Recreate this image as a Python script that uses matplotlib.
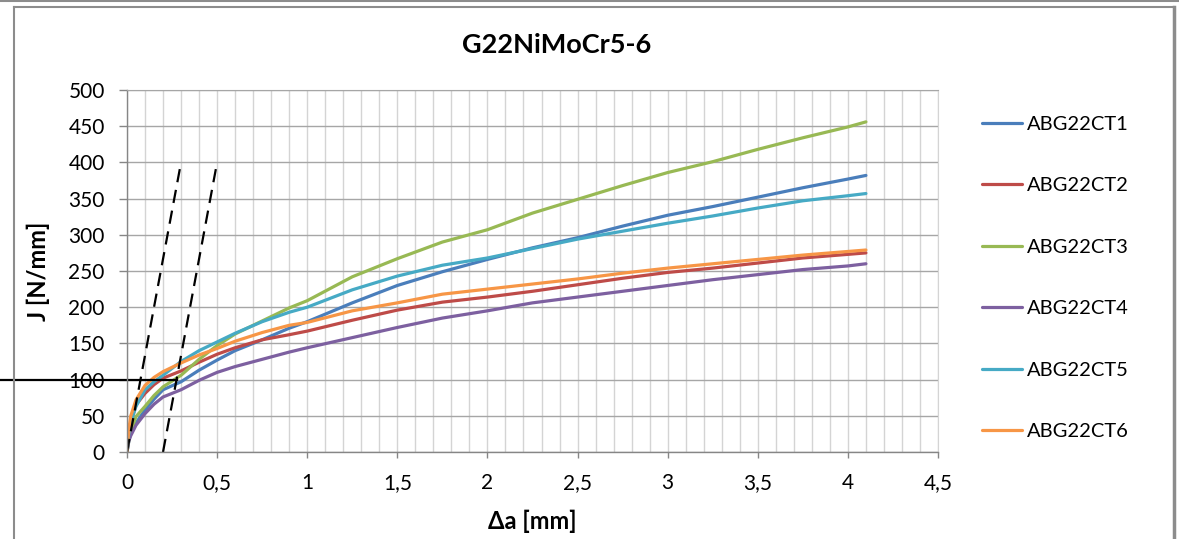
"""
J-R resistance curves for the G22NiMoCr5-6 specimens
"""
import matplotlib
matplotlib.use('Agg')
import matplotlib.pyplot as plt
import matplotlib.lines as mlines
from matplotlib.ticker import MultipleLocator, FuncFormatter

plt.rcParams['font.family'] = ['Lato', 'DejaVu Sans']

# crack extension [mm], shared by all specimens
delta_a = [0, 0.01, 0.02, 0.05, 0.1, 0.15, 0.2, 0.3, 0.4, 0.5, 0.6, 0.75, 0.9, 1.0,
           1.25, 1.5, 1.75, 2.0, 2.25, 2.5, 2.75, 3.0, 3.25, 3.5, 3.75, 4.0, 4.1]

# J integral [N/mm]
j_ct1 = [0, 15, 25, 40, 58, 73, 86, 97, 113, 127, 140, 155, 171, 180,
         206, 230, 249, 266, 282, 296, 312, 327, 339, 352, 365, 377, 382]
j_ct2 = [0, 25, 40, 65, 81, 93, 102, 112, 124, 135, 144, 155, 162, 167,
         182, 196, 207, 214, 222, 231, 240, 248, 254, 261, 268, 273, 275]
j_ct3 = [0, 15, 28, 49, 63, 78, 90, 106, 128, 147, 163, 181, 199, 209,
         242, 267, 290, 307, 330, 349, 368, 386, 401, 418, 434, 449, 456]
j_ct4 = [0, 15, 22, 37, 53, 66, 76, 86, 99, 110, 118, 128, 138, 144,
         158, 172, 185, 195, 206, 214, 222, 230, 238, 245, 252, 257, 260]
j_ct5 = [0, 25, 40, 63, 86, 97, 106, 125, 140, 152, 164, 180, 193, 200,
         224, 243, 258, 268, 281, 294, 305, 316, 326, 337, 347, 354, 357]
j_ct6 = [0, 30, 49, 72, 92, 103, 111, 123, 134, 143, 153, 165, 175, 179,
         195, 206, 218, 225, 232, 239, 247, 254, 260, 266, 272, 277, 279]

SPECIMENS = ['ABG22CT1', 'ABG22CT2', 'ABG22CT3', 'ABG22CT4', 'ABG22CT5', 'ABG22CT6']
SERIES = [j_ct1, j_ct2, j_ct3, j_ct4, j_ct5, j_ct6]
COLORS = ['#4A7EBB', '#BE4B48', '#98B954', '#7D60A0', '#46AAC5', '#F79646']

# blunting line and its 0.2 mm offset, plus the J level marker
BLUNT_SLOPE = 400 / 0.3
BLUNT_OFFSETS = [0.0, 0.2]
BLUNT_J = [0, 400]
J_LEVEL = 100

GRID_MAJOR = '#a6a6a6'
GRID_MINOR = '#d4d4d4'
AXIS_GREY = '#868686'

fig = plt.figure(figsize=(11.79, 5.39), dpi=100)
ax = fig.add_axes([0.1077, 0.1614, 0.6879, 0.6716])

for label, j, c in zip(SPECIMENS, SERIES, COLORS):
    ax.plot(delta_a, j, color=c, linewidth=2.3, label=label,
            solid_capstyle='round', solid_joinstyle='round')

for off in BLUNT_OFFSETS:
    xs = [off + jj / BLUNT_SLOPE for jj in BLUNT_J]
    ax.plot(xs, BLUNT_J, color='black', linewidth=1.6, linestyle=(0, (6, 3.5)))

ax.set_xlim(0, 4.5)
ax.set_ylim(0, 500)

# horizontal marker from the figure edge up to the offset line
x_edge = ax.transData.inverted().transform(fig.transFigure.transform((0, 0)))[0]
x_cross = BLUNT_OFFSETS[1] + J_LEVEL / BLUNT_SLOPE
ax.plot([x_edge, x_cross], [J_LEVEL, J_LEVEL], color='black', linewidth=1.6, clip_on=False)

ax.xaxis.set_major_locator(MultipleLocator(0.5))
ax.xaxis.set_minor_locator(MultipleLocator(0.1))
ax.yaxis.set_major_locator(MultipleLocator(50))
ax.xaxis.set_major_formatter(FuncFormatter(lambda v, p: ('%g' % v).replace('.', ',')))

ax.grid(which='major', axis='y', color=GRID_MAJOR, linewidth=1.0)
ax.grid(which='both', axis='x', color=GRID_MINOR, linewidth=1.0)
ax.set_axisbelow(True)

ax.spines['top'].set_color(GRID_MAJOR)
ax.spines['right'].set_color(GRID_MINOR)
for side in ['left', 'bottom']:
    ax.spines[side].set_color(AXIS_GREY)
    ax.spines[side].set_linewidth(1.0)

ax.tick_params(axis='y', which='major', length=6, width=1, color=AXIS_GREY,
               labelsize=15, pad=10)
ax.tick_params(axis='x', which='major', length=4, width=1, color=AXIS_GREY,
               labelsize=15, pad=11)
ax.tick_params(axis='x', which='minor', length=0)

ax.set_ylabel('J [N/mm]', fontsize=17, fontweight='bold')
ax.yaxis.set_label_coords(-0.095, 0.5)
ax.set_xlabel('\u0394a [mm]', fontsize=17, fontweight='bold')
ax.xaxis.set_label_coords(0.5, -0.158)

fig.text(0.472, 0.916, 'G22NiMoCr5-6', fontsize=19.5, fontweight='bold',
         ha='center', va='center')

fig.legend(loc='upper left', bbox_to_anchor=(0.826, 0.800), frameon=False,
           fontsize=14.5, handlelength=2.0, handletextpad=0.25, labelspacing=2.2,
           borderaxespad=0)

# chart frame
fig.add_artist(mlines.Line2D([0, 1], [0.998, 0.998], color='#8c8c8c', linewidth=1.5))
fig.add_artist(mlines.Line2D([14 / 1179, 1174 / 1179], [1 - 7 / 539, 1 - 7 / 539],
                             color='#8c8c8c', linewidth=1.5))
fig.add_artist(mlines.Line2D([14 / 1179, 14 / 1179], [0, 1 - 7 / 539],
                             color='#8c8c8c', linewidth=1.5))
fig.add_artist(mlines.Line2D([1174 / 1179, 1174 / 1179], [0, 1 - 7 / 539],
                             color='#8c8c8c', linewidth=2.5))

fig.savefig('out.png', dpi=100)
